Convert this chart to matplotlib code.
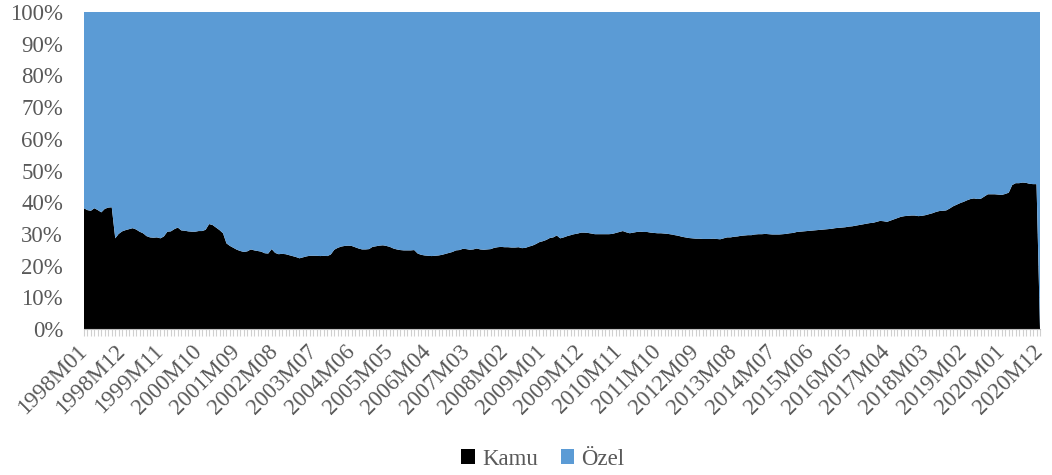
#!/usr/bin/env python3
"""Kamu / Ozel shares, 100% stacked area, monthly 1998M01-2020M12."""

import numpy as np
import pandas as pd
import matplotlib
matplotlib.use("Agg")
import matplotlib.pyplot as plt
from matplotlib.ticker import FixedLocator, PercentFormatter

# Kamu share (%), one row per year (Jan..Dec)
kamu_1998 = [38.1, 37.5, 37.3, 38.1, 37.5, 36.8, 37.9, 38.3, 38.4, 28.6, 30.0, 30.8]
kamu_1999 = [31.2, 31.5, 31.8, 31.4, 30.7, 30.2, 29.3, 28.9, 28.8, 28.9, 28.6, 29.2]
kamu_2000 = [30.7, 30.8, 31.5, 32.0, 31.1, 31.0, 30.8, 30.7, 30.7, 30.9, 30.9, 31.3]
kamu_2001 = [33.1, 32.8, 32.0, 31.2, 30.2, 27.0, 26.2, 25.6, 25.0, 24.6, 24.3, 24.5]
kamu_2002 = [25.1, 24.8, 24.6, 24.4, 23.9, 23.8, 25.2, 24.0, 23.6, 23.7, 23.6, 23.3]
kamu_2003 = [23.0, 22.7, 22.3, 22.6, 22.9, 23.1, 23.1, 23.1, 23.0, 23.1, 23.0, 23.5]
kamu_2004 = [25.0, 25.6, 26.0, 26.2, 26.3, 26.2, 25.8, 25.4, 25.1, 25.1, 25.2, 25.9]
kamu_2005 = [26.1, 26.3, 26.4, 26.2, 25.9, 25.4, 25.1, 24.9, 24.8, 24.8, 24.8, 24.9]
kamu_2006 = [23.8, 23.4, 23.2, 23.1, 23.0, 23.1, 23.2, 23.4, 23.7, 24.0, 24.3, 24.8]
kamu_2007 = [24.9, 25.3, 25.2, 25.0, 25.1, 25.4, 25.1, 25.0, 25.1, 25.2, 25.6, 25.8]
kamu_2008 = [25.9, 25.8, 25.8, 25.7, 25.7, 25.8, 25.5, 25.6, 26.0, 26.3, 26.8, 27.4]
kamu_2009 = [27.7, 28.1, 28.7, 28.9, 29.5, 28.6, 28.9, 29.3, 29.6, 29.9, 30.1, 30.4]
kamu_2010 = [30.4, 30.3, 30.1, 29.9, 29.9, 29.9, 29.9, 29.9, 30.0, 30.3, 30.6, 30.9]
kamu_2011 = [30.5, 30.2, 30.4, 30.6, 30.7, 30.6, 30.6, 30.4, 30.3, 30.2, 30.2, 30.1]
kamu_2012 = [30.0, 29.8, 29.6, 29.4, 29.1, 28.9, 28.7, 28.6, 28.5, 28.5, 28.4, 28.4]
kamu_2013 = [28.4, 28.5, 28.4, 28.3, 28.6, 28.9, 28.9, 29.1, 29.2, 29.4, 29.5, 29.6]
kamu_2014 = [29.6, 29.8, 29.9, 29.9, 30.0, 29.9, 29.8, 29.8, 29.8, 29.9, 30.0, 30.2]
kamu_2015 = [30.3, 30.6, 30.7, 30.8, 30.9, 31.0, 31.1, 31.2, 31.3, 31.4, 31.5, 31.6]
kamu_2016 = [31.8, 31.9, 32.0, 32.1, 32.3, 32.4, 32.6, 32.8, 33.0, 33.2, 33.4, 33.5]
kamu_2017 = [33.8, 34.1, 34.0, 33.8, 34.2, 34.6, 35.0, 35.4, 35.6, 35.7, 35.8, 35.8]
kamu_2018 = [35.6, 35.7, 35.9, 36.2, 36.5, 36.9, 37.2, 37.3, 37.4, 38.0, 38.7, 39.2]
kamu_2019 = [39.7, 40.1, 40.6, 41.0, 41.2, 41.0, 41.1, 41.8, 42.5, 42.5, 42.5, 42.4]
kamu_2020 = [42.3, 42.6, 43.0, 45.4, 46.0, 46.0, 46.2, 46.1, 45.8, 45.7, 45.7, 0.0]

years = list(range(1998, 2021))
kamu = (kamu_1998 + kamu_1999 + kamu_2000 + kamu_2001 + kamu_2002 + kamu_2003
        + kamu_2004 + kamu_2005 + kamu_2006 + kamu_2007 + kamu_2008 + kamu_2009
        + kamu_2010 + kamu_2011 + kamu_2012 + kamu_2013 + kamu_2014 + kamu_2015
        + kamu_2016 + kamu_2017 + kamu_2018 + kamu_2019 + kamu_2020)

# month labels like 1998M01
months = [f"{y}M{m:02d}" for y in years for m in range(1, 13)]

df = pd.DataFrame({"Kamu": kamu}, index=months)
df["Özel"] = 100 - df["Kamu"]  # 100% stacked, the rest is private

plt.rcParams['font.family'] = ['Liberation Serif', 'DejaVu Serif']
fs = 16.5  # one size for all texts

fig = plt.figure(figsize=(10.52, 4.75), dpi=100)
ax = fig.add_axes([0.0798, 0.3074, 0.9088, 0.6673])

x = np.arange(len(df))
ax.stackplot(x, df["Kamu"], df["Özel"], colors=["#000000", "#5B9BD5"],
             labels=["Kamu", "Özel"], zorder=2)

ax.set_xlim(0, len(df) - 1)
ax.set_ylim(0, 100)

# gridlines sit behind the areas
ax.set_yticks(np.arange(0, 101, 10))
ax.yaxis.set_major_formatter(PercentFormatter(decimals=0))
ax.grid(axis='y', color='#d9d9d9', linewidth=0.8, zorder=0)

# label every 11th month, tick every month
tick_pos = x[::11]
ax.set_xticks(tick_pos)
ax.set_xticklabels([months[i] for i in tick_pos], rotation=45, ha='right',
                   va='center', rotation_mode='anchor')
ax.xaxis.set_minor_locator(FixedLocator(x))

for s in ['top', 'right', 'left']:
    ax.spines[s].set_visible(False)
ax.spines['bottom'].set_color('#bfbfbf')
ax.spines['bottom'].set_zorder(3)

ax.tick_params(axis='y', length=0, labelsize=fs, labelcolor='#595959', pad=15)
ax.tick_params(axis='x', which='both', length=5, color='#d0d0d0', width=0.8,
               labelsize=fs, labelcolor='#595959', pad=9)

leg = fig.legend(loc='center', bbox_to_anchor=(0.516, 0.033), ncol=2,
                 frameon=False, fontsize=fs, handlelength=0.6, handleheight=0.6,
                 handletextpad=0.3, columnspacing=1.0)
for t in leg.get_texts():
    t.set_color('#595959')

plt.savefig("out.png", dpi=100)
